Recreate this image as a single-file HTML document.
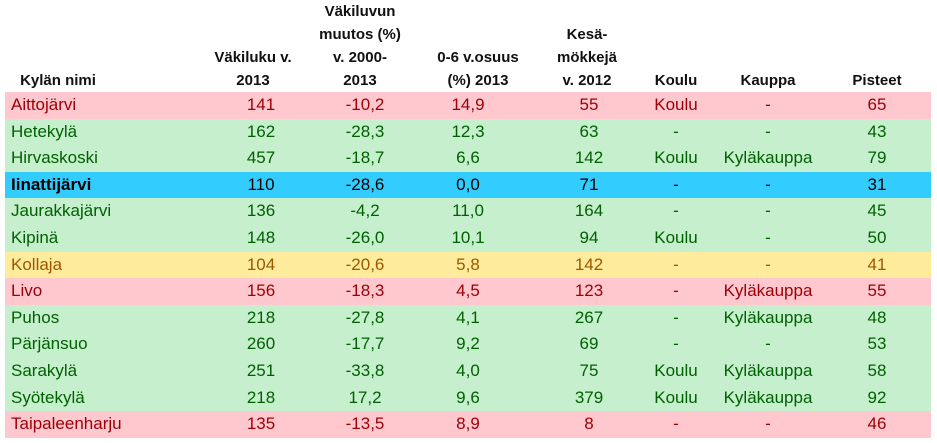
<!DOCTYPE html>
<html><head><meta charset="utf-8"><style>
body{margin:0;width:937px;height:443px;background:#fff;position:relative;overflow:hidden;font-family:"Liberation Sans",sans-serif}
.h{position:absolute;font-weight:bold;font-size:15px;color:#111;text-align:center;line-height:23px;transform:translateX(-50%);white-space:nowrap}
.row{position:absolute;left:5px;width:926px;height:26.6px}
.c{position:absolute;top:0;line-height:26.6px;font-size:17px;white-space:nowrap;transform:translateX(-50%)}
.n{position:absolute;left:6px;top:0;line-height:26.6px;font-size:17px;white-space:nowrap}
.r{background:#ffc7ce;color:#9c0006}.g{background:#c6efce;color:#006100}
.b{background:#33ccff;color:#000}.b .n{font-weight:bold}.y{background:#ffeb9c;color:#9c5700}
</style></head><body>
<div class="h" style="left:58px;top:69px">Kylän nimi</div>
<div class="h" style="left:253px;top:46px">Väkiluku v.<br>2013</div>
<div class="h" style="left:360px;top:0px">Väkiluvun<br>muutos (%)<br>v. 2000-<br>2013</div>
<div class="h" style="left:478px;top:46px">0-6 v.osuus<br>(%) 2013</div>
<div class="h" style="left:587px;top:23px">Kesä-<br>mökkejä<br>v. 2012</div>
<div class="h" style="left:676px;top:69px">Koulu</div>
<div class="h" style="left:768px;top:69px">Kauppa</div>
<div class="h" style="left:877px;top:69px">Pisteet</div>
<div id="rows"></div>
<script>
const names=["Aittojärvi","Hetekylä","Hirvaskoski","Iinattijärvi","Jaurakkajärvi","Kipinä","Kollaja","Livo","Puhos","Pärjänsuo","Sarakylä","Syötekylä","Taipaleenharju"];
const pop=["141","162","457","110","136","148","104","156","218","260","251","218","135"];
const change=["-10,2","-28,3","-18,7","-28,6","-4,2","-26,0","-20,6","-18,3","-27,8","-17,7","-33,8","17,2","-13,5"];
const kids=["14,9","12,3","6,6","0,0","11,0","10,1","5,8","4,5","4,1","9,2","4,0","9,6","8,9"];
const cottages=["55","63","142","71","164","94","142","123","267","69","75","379","8"];
const school=["Koulu","-","Koulu","-","-","Koulu","-","-","-","-","Koulu","Koulu","-"];
const shop=["-","-","Kyläkauppa","-","-","-","-","Kyläkauppa","Kyläkauppa","-","Kyläkauppa","Kyläkauppa","-"];
const points=["65","43","79","31","45","50","41","55","48","53","58","92","46"];
const cls=["r","g","g","b","g","g","y","r","g","g","g","g","r"];
const cols=[[pop,256],[change,360],[kids,463],[cottages,584],[school,671],[shop,763],[points,872]];
const root=document.getElementById('rows');
names.forEach((nm,i)=>{
  const row=document.createElement('div');
  row.className='row '+cls[i];
  row.style.top=(92+i*26.6)+'px';
  
  
  const n=document.createElement('div');n.className='n';n.textContent=nm;
  
  
  row.appendChild(n);
  cols.forEach(([arr,x])=>{
    const c=document.createElement('div');c.className='c';c.style.left=x+'px';c.textContent=arr[i];
    
    
    row.appendChild(c);
  });
  root.appendChild(row);
});
</script>
</body></html>
